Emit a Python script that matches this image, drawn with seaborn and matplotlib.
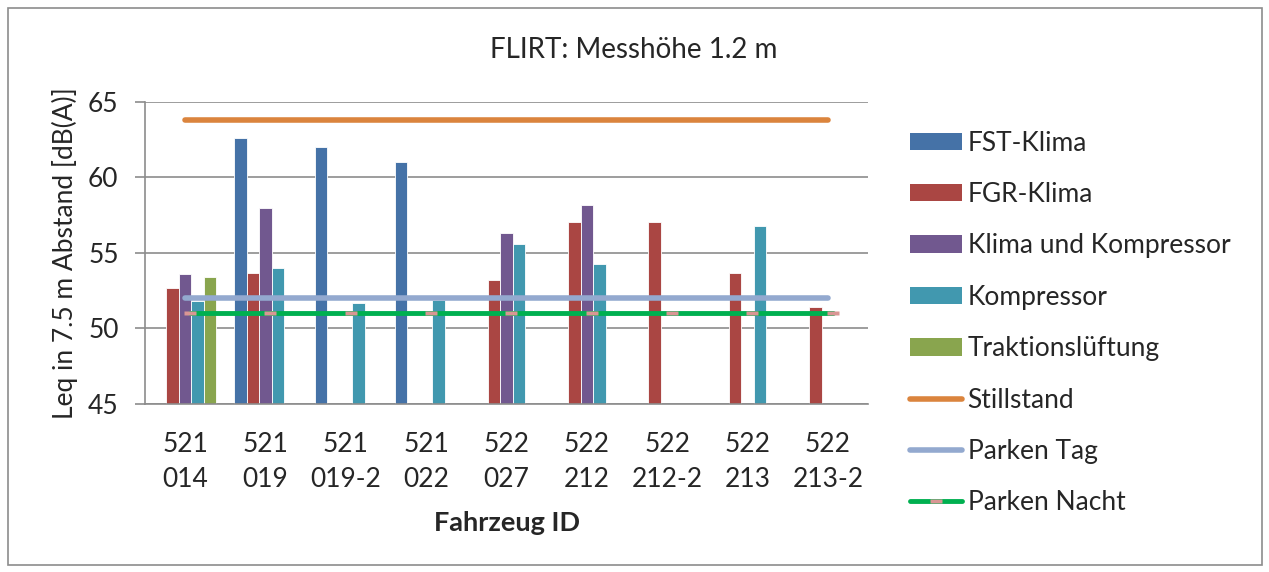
import numpy as np
import pandas as pd
import matplotlib
matplotlib.use("Agg")
import matplotlib.pyplot as plt
import seaborn as sns
from matplotlib.patches import Rectangle
from matplotlib.lines import Line2D
from matplotlib.patches import Patch

# Data
fahrzeug = ["521\n014", "521\n019", "521\n019-2", "521\n022", "522\n027",
            "522\n212", "522\n212-2", "522\n213", "522\n213-2"]
nan = np.nan
fst_klima = [nan, 62.6, 62.0, 61.0, nan, nan, nan, nan, nan]
fgr_klima = [52.7, 53.65, nan, nan, 53.2, 57.07, 57.05, 53.7, 51.4]
klima_kompressor = [53.6, 58.0, nan, nan, 56.3, 58.2, nan, nan, nan]
kompressor = [51.8, 54.0, 51.7, 51.9, 55.6, 54.3, nan, 56.8, nan]
traktion = [53.4, nan, nan, nan, nan, nan, nan, nan, nan]
stillstand = [63.8] * 9
parken_tag = [52.0] * 9
parken_nacht = [51.0] * 9

bar_series = ["FST-Klima", "FGR-Klima", "Klima und Kompressor", "Kompressor", "Traktionslüftung"]
bar_colors = ["#4572A7", "#AA4643", "#71588F", "#4198AF", "#89A54E"]

df = pd.DataFrame({
    "Fahrzeug": fahrzeug * 5,
    "Serie": np.repeat(bar_series, len(fahrzeug)),
    "Leq": fst_klima + fgr_klima + klima_kompressor + kompressor + traktion,
})

sns.set_style("white")
plt.rcParams["font.family"] = ["Lato", "DejaVu Sans"]
fs = 19

fig = plt.figure(figsize=(12.69, 5.72), dpi=100)
ax = fig.add_axes([145 / 1269, 1 - 404 / 572, 723 / 1269, 302 / 572])

sns.barplot(data=df, x="Fahrzeug", y="Leq", hue="Serie", hue_order=bar_series,
            palette=bar_colors, width=0.78, dodge=True, ax=ax, legend=False,
            edgecolor="white", linewidth=0.6, saturation=1)

xs = np.arange(len(fahrzeug))
ax.plot(xs, stillstand, color="#DB843D", lw=4, solid_capstyle="round", zorder=5)
ax.plot(xs, parken_tag, color="#93A9CF", lw=4, solid_capstyle="round", zorder=5)
rect_marker = [(-1, -0.42), (1, -0.42), (1, 0.42), (-1, 0.42), (-1, -0.42)]
ax.plot(xs + 0.06, parken_nacht, color="#00B050", lw=3.5, solid_capstyle="round",
        marker=rect_marker, markersize=8, markerfacecolor="#D99694",
        markeredgecolor="none", zorder=6)

ax.set_ylim(45, 65)
ax.set_xlim(-0.5, len(fahrzeug) - 0.5)
ax.set_yticks([45, 50, 55, 60, 65])
ax.yaxis.grid(True, color="#8C8C8C", lw=1.2)
ax.set_axisbelow(True)
for s in ["top", "right"]:
    ax.spines[s].set_visible(False)
for s in ["left", "bottom"]:
    ax.spines[s].set_color("#8C8C8C")
    ax.spines[s].set_linewidth(1.2)

ax.set_xticks(xs)
ax.set_xticklabels(fahrzeug, fontsize=fs, linespacing=1.5)
ax.set_xticks(np.arange(len(fahrzeug) + 1) - 0.5, minor=True)
ax.tick_params(axis="x", which="major", length=0, pad=20)
ax.tick_params(axis="x", which="minor", length=8, color="#8C8C8C", width=1.2, direction="out")
ax.tick_params(axis="y", labelsize=fs, length=7, color="#8C8C8C", width=1.2,
               direction="out", left=True, pad=12)

ax.set_xlabel("Fahrzeug ID", fontsize=fs + 0.5, fontweight="bold", labelpad=14)
ax.set_ylabel("Leq in 7.5 m Abstand [dB(A)]", fontsize=fs)
ax.yaxis.set_label_coords(-67 / 723, 0.5)

fig.text(634 / 1269, 1 - 50 / 572, "FLIRT: Messhöhe 1.2 m", fontsize=fs + 1,
         ha="center", va="center")

handles = [Patch(facecolor=c, edgecolor="none") for c in bar_colors]
handles += [
    Line2D([0], [0], color="#DB843D", lw=4, solid_capstyle="round"),
    Line2D([0], [0], color="#93A9CF", lw=4, solid_capstyle="round"),
    Line2D([0], [0], color="#00B050", lw=3.5, marker=rect_marker, markersize=8,
           markerfacecolor="#D99694", markeredgecolor="none", markevery=[1],
           solid_capstyle="round"),
]
labels = bar_series + ["Stillstand", "Parken Tag", "Parken Nacht"]
fig.legend(handles, labels, loc="upper left", bbox_to_anchor=(899 / 1269, 1 - 120 / 572),
           frameon=False, fontsize=fs, handlelength=2.0, handleheight=0.64,
           labelspacing=1.0, handletextpad=0.2, borderaxespad=0)

fig.patches.append(Rectangle((8 / 1269, 7 / 572), 1254 / 1269, 557 / 572,
                             transform=fig.transFigure, fill=False,
                             edgecolor="#8C8C8C", lw=1.2))

fig.savefig("out.png", dpi=100)
